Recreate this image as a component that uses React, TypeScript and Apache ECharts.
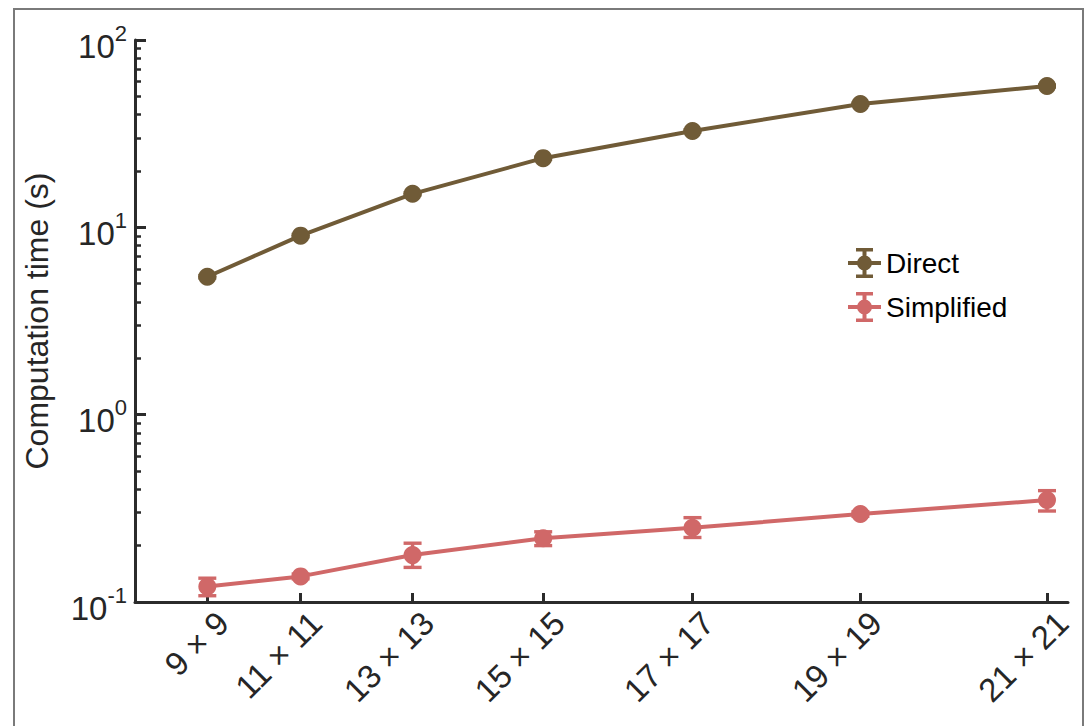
import React, { useEffect, useRef } from 'react';
import * as echarts from 'echarts';

// Grid sizes tested and the number of grid points for each (x position)
const gridSizes = [9, 11, 13, 15, 17, 19, 21];
const gridPoints = [81, 121, 169, 225, 289, 361, 441];

// Direct method: mean computation time (s) with error range
const directTime = [5.45, 9.03, 15.1, 23.4, 32.7, 45.5, 56.8];
const directLow = [5.37, 8.9, 14.9, 23.1, 32.3, 45.0, 56.1];
const directHigh = [5.53, 9.16, 15.3, 23.7, 33.1, 46.0, 57.5];

// Simplified method: mean computation time (s) with error range
const simplifiedTime = [0.121, 0.137, 0.178, 0.219, 0.249, 0.295, 0.35];
const simplifiedLow = [0.108, 0.133, 0.153, 0.2, 0.221, 0.287, 0.306];
const simplifiedHigh = [0.134, 0.141, 0.206, 0.237, 0.282, 0.303, 0.393];

const yTicks = [0.1, 1, 10, 100];

const DIRECT_COLOR = '#705b37';
const SIMPLIFIED_COLOR = '#d06868';
const AXIS_COLOR = '#2b2b2b';
const FONT = '"Liberation Sans", Arial, Helvetica, sans-serif';

// Legend glyph: line through a marker with an error bar and caps (33 x 30 box)
const legendGlyph =
  'path://M0 13H33V17H0Z' +
  'M14.5 1.5H18.5V28.5H14.5Z' +
  'M8 0H25V3.5H8Z' +
  'M8 26.5H25V30H8Z' +
  'M9 15A7.5 7.5 0 1 1 24 15A7.5 7.5 0 1 1 9 15Z';

function errorBars(name: string, low: number[], high: number[], color: string) {
  return {
    type: 'custom',
    name,
    silent: true,
    z: 3,
    data: gridPoints.map((x, i) => [x, low[i], high[i]]),
    encode: { x: 0, y: [1, 2] },
    renderItem: (_params: any, api: any) => {
      const x = api.value(0);
      const lo = api.coord([x, api.value(1)]);
      const hi = api.coord([x, api.value(2)]);
      const half = 9;
      const style = { stroke: color, lineWidth: 3.4 };
      return {
        type: 'group',
        children: [
          { type: 'line', shape: { x1: lo[0], y1: lo[1], x2: hi[0], y2: hi[1] }, style },
          { type: 'line', shape: { x1: lo[0] - half, y1: lo[1], x2: lo[0] + half, y2: lo[1] }, style },
          { type: 'line', shape: { x1: hi[0] - half, y1: hi[1], x2: hi[0] + half, y2: hi[1] }, style },
        ],
      };
    },
  };
}

function lineSeries(name: string, values: number[], color: string) {
  return {
    type: 'line',
    name,
    data: gridPoints.map((x, i) => [x, values[i]]),
    symbol: 'circle',
    symbolSize: 18,
    showSymbol: true,
    z: 4,
    itemStyle: { color, borderWidth: 0 },
    lineStyle: { color, width: 4 },
    emphasis: { disabled: true },
  };
}

export default function App() {
  const ref = useRef<HTMLDivElement>(null);

  useEffect(() => {
    const chart = echarts.init(ref.current!, null, { renderer: 'svg' });
    const option: any = {
      animation: false,
      backgroundColor: '#ffffff',
      textStyle: { fontFamily: FONT },
      graphic: [
        {
          type: 'rect',
          silent: true,
          z: -10,
          shape: { x: 14, y: 9, width: 1069, height: 740 },
          style: { fill: 'none', stroke: '#7a7a7a', lineWidth: 2 },
        },
      ],
      grid: { left: 135, right: 21, top: 40, bottom: 124, containLabel: false },
      legend: {
        data: [
          { name: 'Direct', icon: legendGlyph },
          { name: 'Simplified', icon: legendGlyph },
        ],
        orient: 'vertical',
        left: 843,
        top: 243,
        itemWidth: 33,
        itemHeight: 30,
        itemGap: 14,
        selectedMode: false,
        itemStyle: { borderWidth: 0 },
        textStyle: { fontSize: 28, color: '#000', fontFamily: FONT },
      },
      xAxis: {
        type: 'value',
        min: 50,
        max: 450,
        axisLine: { show: true, lineStyle: { color: AXIS_COLOR, width: 3 } },
        axisTick: {
          show: true,
          inside: true,
          length: 9,
          lineStyle: { color: AXIS_COLOR, width: 3 },
          customValues: gridPoints,
        },
        axisLabel: {
          customValues: gridPoints,
          rotate: 45,
          margin: 31,
          padding: [20, -22, 0, 0],
          fontSize: 33,
          color: '#262626',
          fontFamily: FONT,
          formatter: (v: number) => {
            const i = gridPoints.indexOf(v);
            return i >= 0 ? `${gridSizes[i]} × ${gridSizes[i]}` : '';
          },
        },
        splitLine: { show: false },
      },
      yAxis: {
        type: 'log',
        logBase: 10,
        min: yTicks[0],
        max: yTicks[yTicks.length - 1],
        name: 'Computation time (s)',
        nameLocation: 'middle',
        nameGap: 82,
        nameTextStyle: { fontSize: 32, color: '#262626', fontFamily: FONT },
        axisLine: { show: true, lineStyle: { color: AXIS_COLOR, width: 3 } },
        axisTick: { show: true, inside: true, length: 11, lineStyle: { color: AXIS_COLOR, width: 3 } },
        minorTick: { show: true, splitNumber: 9, length: 6, lineStyle: { color: AXIS_COLOR, width: 2.5 } },
        splitLine: { show: false },
        axisLabel: {
          margin: 8,
          formatter: (v: number) => `{b|10}{s|${Math.round(Math.log10(v))}}`,
          rich: {
            b: { fontSize: 33, color: '#262626', fontFamily: FONT, padding: [12, 0, 0, 0], verticalAlign: 'middle' },
            s: { fontSize: 22, color: '#262626', fontFamily: FONT, padding: [0, 0, 14, 0], verticalAlign: 'middle' },
          },
        },
      },
      series: [
        lineSeries('Direct', directTime, DIRECT_COLOR),
        lineSeries('Simplified', simplifiedTime, SIMPLIFIED_COLOR),
        errorBars('Direct error', directLow, directHigh, DIRECT_COLOR),
        errorBars('Simplified error', simplifiedLow, simplifiedHigh, SIMPLIFIED_COLOR),
      ],
    };
    chart.setOption(option);
    return () => chart.dispose();
  }, []);

  return (
    <div
      ref={ref}
      style={{ position: 'fixed', left: 0, top: 0, width: 1089, height: 726, background: '#fff' }}
    />
  );
}
